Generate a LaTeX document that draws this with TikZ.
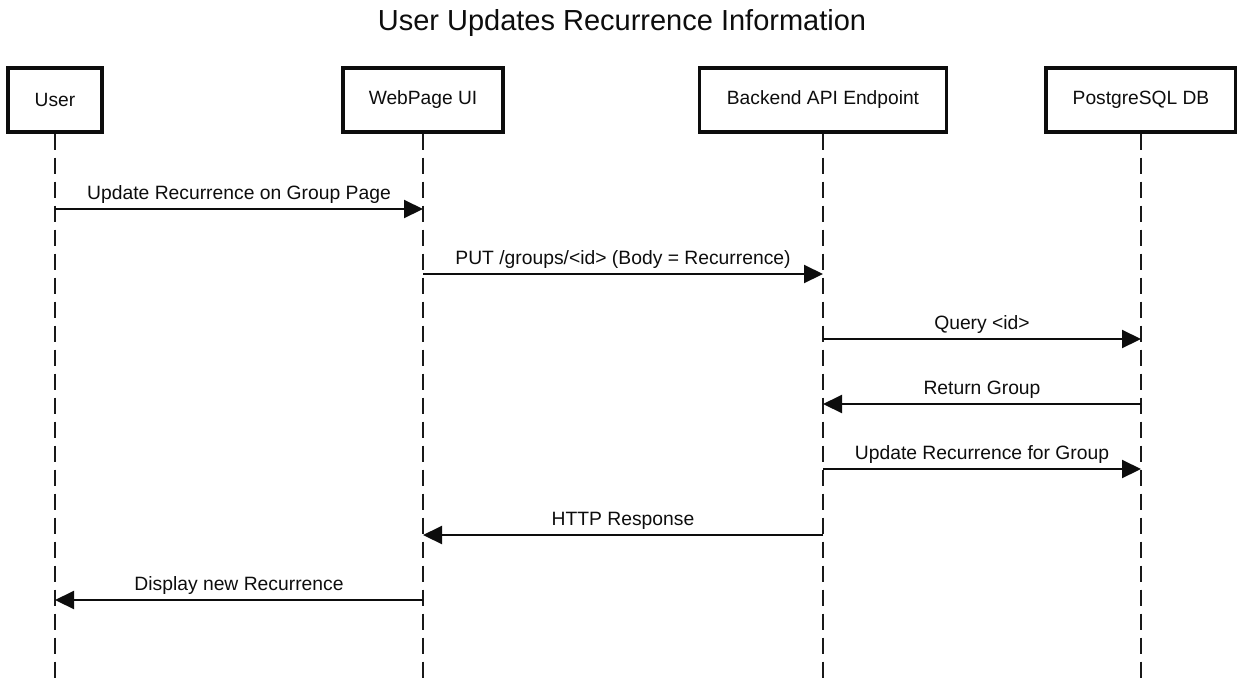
\documentclass[tikz,border=0pt]{standalone}
\usepackage{fontspec}
\setmainfont{Liberation Sans}
\usetikzlibrary{arrows.meta}

\begin{document}
\begin{tikzpicture}[x=1pt,y=-1pt,
  actor/.style={draw=black!95, line width=3.2pt, minimum height=64pt,
    inner sep=0pt, font=\fontsize{19.2}{22}\selectfont, text=black!95},
  lifeline/.style={draw=black!90, line width=1.9pt, dash pattern=on 16pt off 8pt},
  msg/.style={draw=black!95, line width=2.1pt,
    -{Triangle[length=19pt,width=18pt]}},
  msglabel/.style={midway, anchor=base, yshift=10pt, inner sep=0pt,
    font=\fontsize{19.3}{22}\selectfont, text=black!95}]

  % canvas
  \useasboundingbox (0,0) rectangle (1237,681);
  \coordinate (bottom) at (0,681);

  % title
  \node[anchor=base, font=\fontsize{29}{33}\selectfont, text=black!95]
    (title) at (622,30) {User Updates Recurrence Information};

  % participants
  \node[actor, minimum width=94pt]  (user) at (55,100)   {User};
  \node[actor, minimum width=160pt] (web)  at (423,100)  {WebPage UI};
  \node[actor, minimum width=247pt] (api)  at (823,100)  {Backend API Endpoint};
  \node[actor, minimum width=190pt] (db)   at (1141,100) {PostgreSQL DB};

  % lifelines
  \foreach \p in {user,web,api,db}
    \draw[lifeline] (\p.south) -- (\p.south |- bottom);

  % messages
  \draw[msg] (user.south |- 0,209) -- (web.south |- 0,209)
    node[msglabel] {Update Recurrence on Group Page};
  \draw[msg] (web.south |- 0,274) -- (api.south |- 0,274)
    node[msglabel] {PUT /groups/<id> (Body = Recurrence)};
  \draw[msg] (api.south |- 0,339) -- (db.south |- 0,339)
    node[msglabel] {Query <id>};
  \draw[msg] (db.south |- 0,404) -- (api.south |- 0,404)
    node[msglabel] {Return Group};
  \draw[msg] (api.south |- 0,469) -- (db.south |- 0,469)
    node[msglabel] {Update Recurrence for Group};
  \draw[msg] (api.south |- 0,535) -- (web.south |- 0,535)
    node[msglabel] {HTTP Response};
  \draw[msg] (web.south |- 0,600) -- (user.south |- 0,600)
    node[msglabel] {Display new Recurrence};
\end{tikzpicture}
\end{document}
